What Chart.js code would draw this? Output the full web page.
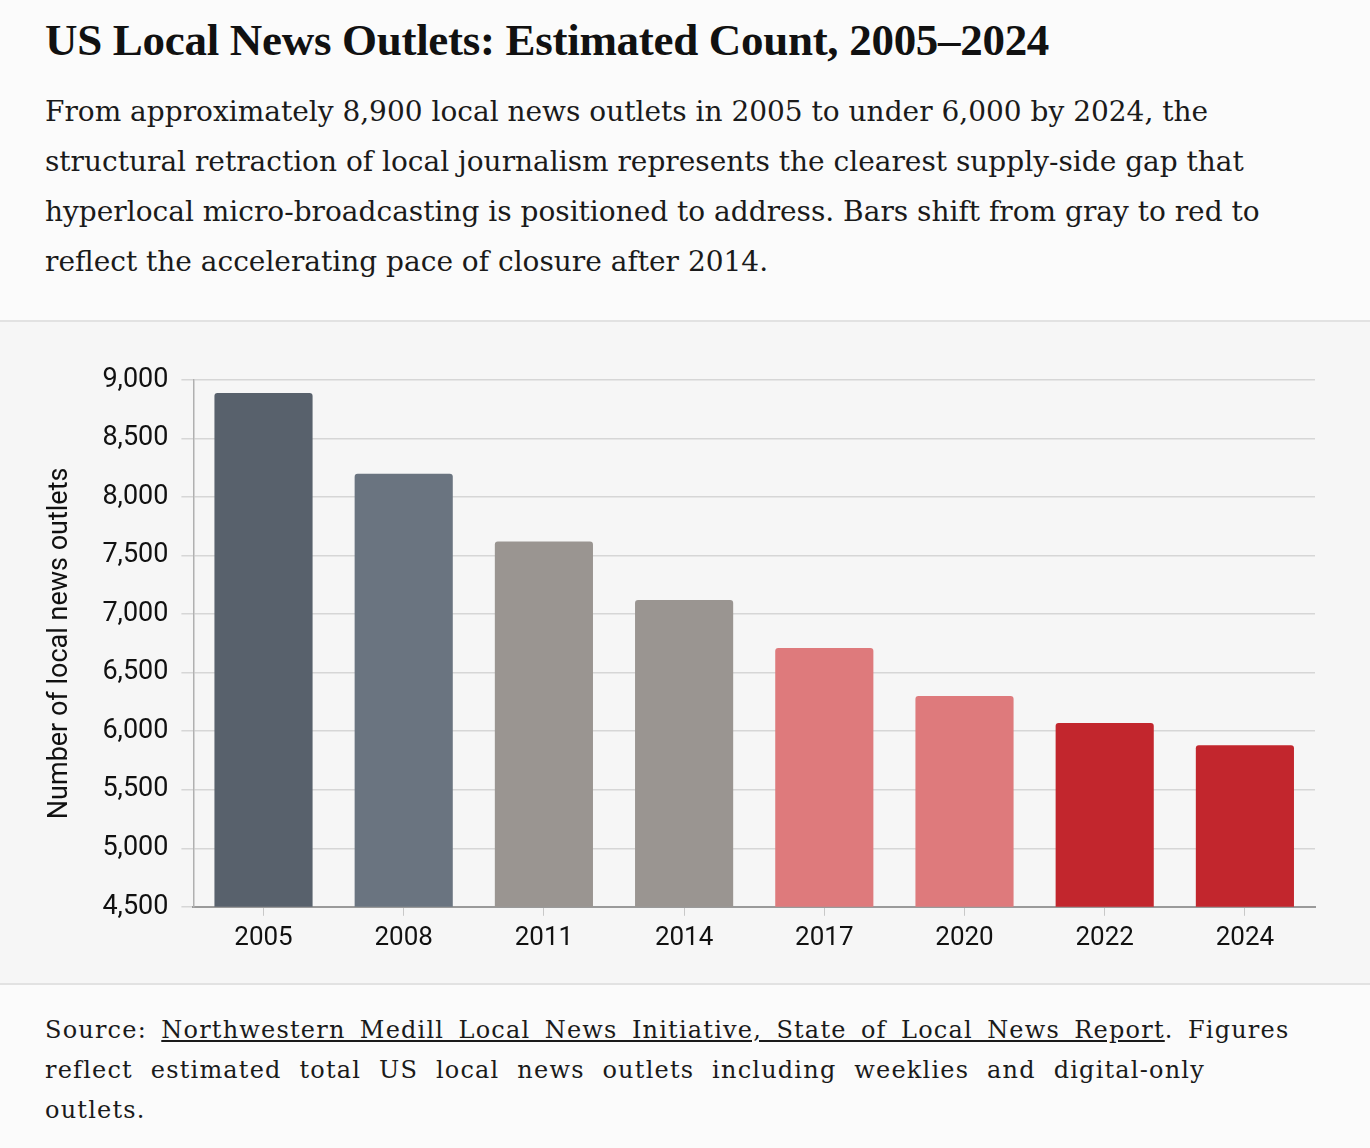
<!DOCTYPE html>
<html>
<head>
    <title>US Local News Outlets</title>
    <script src="https://cdn.jsdelivr.net/npm/chart.js"></script>
    <style>
        body { margin: 0; background: #fbfbfb; width: 1370px; }
        .head { padding: 14px 0 0 45px; height: 320px; box-sizing: border-box; }
        h1 { font-family: "Liberation Serif", serif; font-weight: bold; font-size: 45px; margin: 0 0 21px 0; color: #111; letter-spacing: -0.3px; }
        .sub { font-family: "DejaVu Serif", serif; font-size: 28px; line-height: 50px; color: #1a1a1a; margin: 0; white-space: nowrap; }
        .panel { position: relative; height: 665px; background: #f6f6f6; border-top: 2px solid #e2e2e2; border-bottom: 2px solid #e2e2e2; box-sizing: border-box; }
        .foot { padding: 25px 0 0 45px; font-family: "DejaVu Serif", serif; font-size: 24px; line-height: 40px; color: #1a1a1a; letter-spacing: 1.2px; word-spacing: 5.5px; white-space: nowrap; }
        .foot .wide { word-spacing: 9px; }
        .foot a { color: #1a1a1a; text-decoration: underline; }
    </style>
</head>
<body>
    <div class="head">
        <h1>US Local News Outlets: Estimated Count, 2005–2024</h1>
        <p class="sub">From approximately 8,900 local news outlets in 2005 to under 6,000 by 2024, the<br>structural retraction of local journalism represents the clearest supply-side gap that<br>hyperlocal micro-broadcasting is positioned to address. Bars shift from gray to red to<br>reflect the accelerating pace of closure after 2014.</p>
    </div>
    <div class="panel"><canvas id="newsChart"></canvas></div>
    <div class="foot">Source: <a href="#">Northwestern Medill Local News Initiative, State of Local News Report</a>. Figures<br><span class="wide">reflect estimated total US local news outlets including weeklies and digital-only</span><br>outlets.</div>

    <script>
        const years = ["2005", "2008", "2011", "2014", "2017", "2020", "2022", "2024"];
        const outlets = [8890, 8200, 7620, 7120, 6710, 6300, 6070, 5880];
        const barColors = ["#58616c", "#6a7480", "#9a9591", "#9a9591", "#de7a7c", "#de7a7c", "#c2262d", "#c2262d"];

        const ctx = document.getElementById("newsChart").getContext("2d");
        new Chart(ctx, {
            type: "bar",
            data: {
                labels: years,
                datasets: [{
                    label: "Local news outlets",
                    data: outlets,
                    backgroundColor: barColors,
                    borderRadius: 3,
                    borderSkipped: "bottom",
                    categoryPercentage: 0.7,
                    barPercentage: 1.0
                }]
            },
            options: {
                responsive: true,
                maintainAspectRatio: false,
                animation: false,
                layout: { padding: { top: 58, right: 55, bottom: 22, left: 40 } },
                plugins: { legend: { display: false }, tooltip: { enabled: false } },
                scales: {
                    x: {
                        grid: { display: true, offset: false, drawOnChartArea: false, color: "#c8c8c8", tickLength: 9 },
                        border: { color: "#9a9a9a", width: 2 },
                        ticks: { color: "#111", font: { family: "Roboto", size: 26 }, padding: 7 }
                    },
                    y: {
                        min: 4500,
                        max: 9000,
                        ticks: {
                            stepSize: 500,
                            color: "#111",
                            font: { family: "Roboto", size: 27 },
                            padding: 13,
                            callback: v => v.toLocaleString("en-US")
                        },
                        grid: { color: "#d6d6d6", lineWidth: 1.5, tickLength: 12 },
                        border: { color: "#b0b0b0", width: 1.5 },
                        title: {
                            display: true,
                            text: "Number of local news outlets",
                            color: "#111",
                            font: { family: "Roboto", size: 27 },
                            padding: { bottom: 13 }
                        }
                    }
                }
            }
        });
    </script>
</body>
</html>
